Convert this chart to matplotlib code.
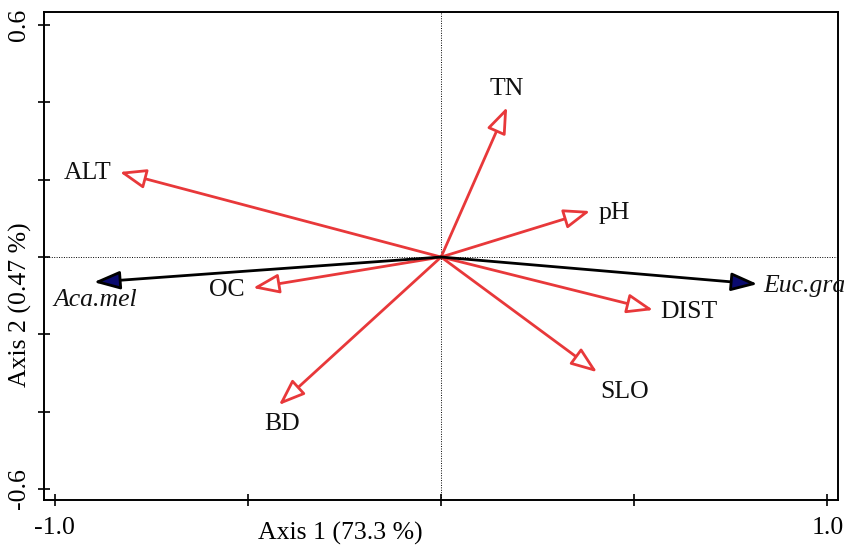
import matplotlib.pyplot as plt

# ── Data (biplot scores) ──────────────────────────────────────────────────────
env_names = ["TN", "pH", "ALT", "OC", "BD", "DIST", "SLO"]
env_x = [0.171, 0.386, -0.832, -0.487, -0.420, 0.549, 0.404]
env_y = [0.388, 0.119, 0.220, -0.080, -0.383, -0.137, -0.298]

sp_names = ["Euc.gra", "Aca.mel"]
sp_x = [0.819, -0.899]
sp_y = [-0.070, -0.065]

x_ticks = [-1.0, -0.5, 0.0, 0.5, 1.0]
x_ticklabels = ["-1.0", "", "", "", "1.0"]
y_ticks = [-0.6, -0.4, -0.2, 0.0, 0.2, 0.4, 0.6]
y_ticklabels = ["-0.6", "", "", "", "", "", "0.6"]

# label placement: (dx, dy, ha) relative to arrow tip
env_lab = {
    "TN":   (0.0, 0.047, "center"),
    "pH":   (0.022, -0.004, "left"),
    "ALT":  (-0.022, -0.003, "right"),
    "OC":   (-0.022, -0.005, "right"),
    "BD":   (0.008, -0.050, "center"),
    "DIST": (0.018, -0.006, "left"),
    "SLO":  (0.071, -0.050, "center"),
}
sp_lab = {
    "Euc.gra": (0.015, -0.005, "left"),
    "Aca.mel": (-0.104, -0.046, "left"),
}

RED = "#e8383a"
plt.rcParams["font.family"] = ["Liberation Serif", "DejaVu Serif"]
plt.rcParams["font.size"] = 18.5

fig = plt.figure(figsize=(8.45, 5.46), dpi=100)
ax = fig.add_axes([0.052, 0.084, 0.940, 0.894])
ax.set_xlim(-1.028, 1.028)
ax.set_ylim(-0.629, 0.634)

ax.axhline(0, color="black", lw=0.7, ls=(0, (1, 1.5)))
ax.axvline(0, color="black", lw=0.7, ls=(0, (1, 1.5)))

for name, x, y in zip(env_names, env_x, env_y):
    ax.annotate("", xy=(x, y), xytext=(0, 0),
                arrowprops=dict(arrowstyle="-|>,head_length=0.8,head_width=0.3",
                                fc="white", ec=RED, lw=2, shrinkA=0, shrinkB=0,
                                mutation_scale=20))
    dx, dy, ha = env_lab[name]
    ax.text(x + dx, y + dy, name, ha=ha, va="center", color="#111111")

for name, x, y in zip(sp_names, sp_x, sp_y):
    ax.annotate("", xy=(x, y), xytext=(0, 0),
                arrowprops=dict(arrowstyle="-|>,head_length=0.8,head_width=0.28",
                                fc="#0a0a6e", ec="black", lw=2, shrinkA=0, shrinkB=0,
                                mutation_scale=20))
    dx, dy, ha = sp_lab[name]
    ax.text(x + dx, y + dy, name, ha=ha, va="center", style="italic",
            color="#111111", clip_on=False)

ax.set_xticks(x_ticks)
ax.set_xticklabels(x_ticklabels)
ax.set_yticks(y_ticks)
ax.set_yticklabels(y_ticklabels, rotation=90, va="center")
ax.tick_params(direction="inout", length=8, width=1.2)
ax.tick_params(axis="x", pad=8)
ax.tick_params(axis="y", pad=6)
for s in ax.spines.values():
    s.set_linewidth(1.4)

ax.set_xlabel("Axis 1 (73.3 %)", va="center")
ax.set_ylabel("Axis 2 (0.47 %)", va="center")
ax.xaxis.set_label_coords(0.373, -0.068)
ax.yaxis.set_label_coords(-0.030, 0.40)

fig.savefig("out.png", dpi=100)
